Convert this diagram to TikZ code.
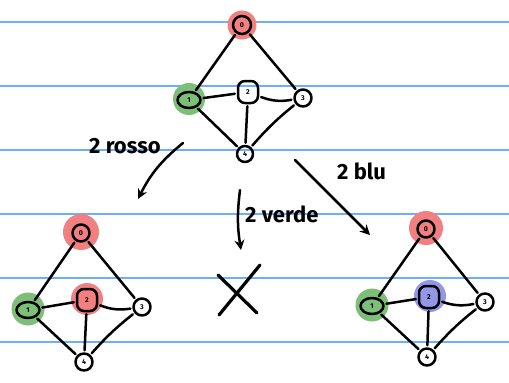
\documentclass[tikz,border=0pt]{standalone}
\usepackage{fontspec}
\setmainfont{Fira Sans}
\usetikzlibrary{arrows.meta,shapes.geometric}
\definecolor{ruleblue}{RGB}{110,175,250}
\definecolor{haloRed}{RGB}{242,128,128}
\definecolor{haloGreen}{RGB}{125,190,120}
\definecolor{haloBlue}{RGB}{150,150,232}
\begin{document}
\begin{tikzpicture}[x=1pt,y=-1pt,
  ink/.style={line width=2.5pt, line cap=round, line join=round},
  vtx/.style={circle, draw, ink, inner sep=0pt, minimum size=17pt, font=\fontsize{7}{7}\selectfont\bfseries},
  vone/.style={ellipse, draw, ink, inner sep=0pt, minimum width=23pt, minimum height=16pt, font=\fontsize{7}{7}\selectfont\bfseries},
  vtwo/.style={rectangle, rounded corners=7pt, draw, ink, inner sep=0pt, minimum width=20pt, minimum height=22pt, font=\fontsize{7}{7}\selectfont\bfseries},
  halo/.style={circle, fill=#1, draw=none, minimum size=32pt, inner sep=0pt},
  edge/.style={ink, shorten >=2pt, shorten <=2pt},
  arr/.style={ink, -{Stealth[length=10pt,width=10pt]}},
  lbl/.style={font=\fontsize{22}{22}\selectfont\bfseries, inner sep=0pt}
]
\useasboundingbox (0,0) rectangle (509,383);
\fill[white] (0,0) rectangle (509,383);
\foreach \y in {22,86,150,214,278,342} \draw[ruleblue, line width=1.1pt] (0,\y) -- (509,\y);

% ---- top graph ----
\node[halo=haloRed, minimum size=29pt] (a0h) at (242,25) {};
\node[halo=haloGreen, minimum size=32pt] (a1h) at (189,99) {};
\node[vtx, minimum size=18pt] (a0) at (242,25) {0};
\node[vone] (a1) at (189,100) {1};
\node[vtwo] (a2) at (248,92) {2};
\node[vtx] (a3) at (303,98) {3};
\node[vtx, minimum size=16pt] (a4) at (245,154) {4};
\draw[edge] (a0) -- (a1);
\draw[edge] (a0) -- (a3);
\draw[edge] (a1) -- (a2);
\draw[edge] (a2) to[bend right=15] (a3);
\draw[edge] (a1) -- (a4);
\draw[edge] (a2) -- (a4);
\draw[edge] (a3) to[bend right=5] (a4);

% ---- bottom-left graph ----
\node[halo=haloRed, minimum size=36pt] (b0h) at (81,232) {};
\node[halo=haloGreen, minimum size=33pt] (b1h) at (28,309) {};
\node[halo=haloRed, minimum size=32pt] (b2h) at (87,299) {};
\node[vtx] (b0) at (81,233) {0};
\node[vone] (b1) at (28,310) {1};
\node[vtwo] (b2) at (87,300) {2};
\node[vtx] (b3) at (142,307) {3};
\node[vtx] (b4) at (84,362) {4};
\draw[edge] (b0) -- (b1);
\draw[edge] (b0) -- (b3);
\draw[edge] (b1) -- (b2);
\draw[edge] (b2) to[bend right=15] (b3);
\draw[edge] (b1) -- (b4);
\draw[edge] (b2) -- (b4);
\draw[edge] (b3) to[bend right=5] (b4);

% ---- bottom-right graph ----
\node[halo=haloRed, minimum size=34pt] (c0h) at (426,228) {};
\node[halo=haloGreen, minimum size=33pt] (c1h) at (372,305) {};
\node[halo=haloBlue, minimum size=32pt] (c2h) at (430,296) {};
\node[vtx] (c0) at (426,229) {0};
\node[vone] (c1) at (372,306) {1};
\node[vtwo] (c2) at (429,297) {2};
\node[vtx] (c3) at (485,302) {3};
\node[vtx] (c4) at (427,357) {4};
\draw[edge] (c0) -- (c1);
\draw[edge] (c0) -- (c3);
\draw[edge] (c1) -- (c2);
\draw[edge] (c2) to[bend right=15] (c3);
\draw[edge] (c1) -- (c4);
\draw[edge] (c2) -- (c4);
\draw[edge] (c3) to[bend right=5] (c4);

% ---- arrows and labels ----
\coordinate (r1) at (183,143);
\coordinate (r2) at (138,199);
\draw[arr] (r1) to[bend right=12] (r2);
\node[lbl, anchor=west] (rl) at (89,146) {2 rosso};

\coordinate (v1) at (240,190);
\coordinate (v2) at (241,250);
\draw[arr] (v1) to[bend right=8] (v2);
\node[lbl, anchor=west] (vl) at (245,214) {2 verde};

\coordinate (u1) at (295,160);
\coordinate (u2) at (370,235);
\draw[arr] (u1) -- (u2);
\node[lbl, anchor=west] (ul) at (337,171) {2 blu};

% ---- cross ----
\coordinate (x1) at (218,275);
\coordinate (x2) at (257,313);
\coordinate (x3) at (260,265);
\coordinate (x4) at (219,315);
\draw[ink, line width=3.2pt] (x1) -- (x2);
\draw[ink, line width=3.2pt] (x3) -- (x4);
\end{tikzpicture}
\end{document}
